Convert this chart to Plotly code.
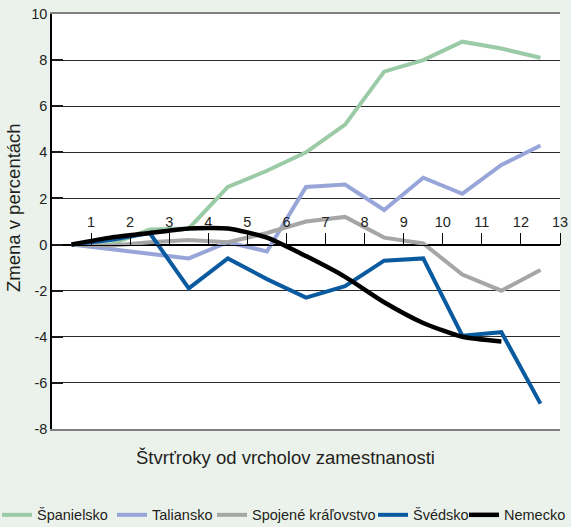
import plotly.graph_objects as go

# Positions of the observations (between the quarter tick marks)
quarters = [0.5, 1.5, 2.5, 3.5, 4.5, 5.5, 6.5, 7.5, 8.5, 9.5, 10.5, 11.5, 12.5]
x_tick_vals = list(range(1, 14))
x_tick_text = [str(v) for v in x_tick_vals]
y_tick_vals = [-8, -6, -4, -2, 0, 2, 4, 6, 8, 10]
y_tick_text = ["-8", "-6", "-4", "-2", "0", "2", "4", "6", "8", "10"]

spain = [0, 0, 0.65, 0.7, 2.5, 3.2, 4.0, 5.2, 7.5, 8.0, 8.8, 8.5, 8.1]
italy = [0, -0.2, -0.4, -0.6, 0.1, -0.3, 2.5, 2.6, 1.5, 2.9, 2.2, 3.45, 4.3]
uk = [0, -0.05, 0.1, 0.2, 0.1, 0.5, 1.0, 1.2, 0.3, 0.05, -1.3, -2.0, -1.1]
sweden = [0, 0.2, 0.5, -1.9, -0.6, -1.5, -2.3, -1.8, -0.7, -0.6, -3.95, -3.8, -6.9]
germany = [0, 0.3, 0.5, 0.7, 0.7, 0.3, -0.5, -1.4, -2.5, -3.4, -4.0, -4.2]

names = ["Španielsko", "Taliansko", "Spojené kráľovstvo", "Švédsko", "Nemecko"]
colors = ["#9BCBA6", "#97A5D8", "#A6A6A6", "#0A5AA0", "#000000"]
series = [spain, italy, uk, sweden, germany]
legend_ids = ["legend", "legend2", "legend3", "legend4", "legend5"]

L, R, T, B = 52, 11, 14, 98
W, H = 571, 527
PW, PH = W - L - R, H - T - B
legend_px = [-3, 112, 212, 373, 464]
legend_x = [(p - L) / PW for p in legend_px]

FONT = "Liberation Sans, Arial, sans-serif"
BG = "#EBF2EC"
TXT = "#231F20"

fig = go.Figure()
for name, col, vals, lid in zip(names, colors, series, legend_ids):
    fig.add_trace(go.Scatter(
        x=quarters[:len(vals)], y=vals, mode="lines", name=name,
        line=dict(color=col, width=4.5 if name == "Nemecko" else 4,
                  shape="spline" if name == "Nemecko" else "linear",
                  smoothing=0.6),
        legend=lid, hoverinfo="skip",
    ))

fig.update_layout(
    xaxis=dict(range=[0, 13], showgrid=False, zeroline=False, showticklabels=False,
               ticks="", showline=True, mirror=True, linecolor="#7F7F7F", linewidth=2),
    xaxis2=dict(range=[0, 13], overlaying="x", anchor="free", position=8 / 18,
                side="top", tickvals=x_tick_vals, ticktext=x_tick_text, ticks="outside",
                ticklen=12, tickwidth=1, tickcolor="#000", showline=True,
                linecolor="#000", linewidth=1, showgrid=False, zeroline=False,
                tickfont=dict(family=FONT, size=14.5, color=TXT)),
    yaxis=dict(range=[-8, 10], tickvals=y_tick_vals, ticktext=y_tick_text,
               showgrid=True, gridcolor="#2A2A2A",
               gridwidth=1, zeroline=True, zerolinecolor="#000", zerolinewidth=1,
               showline=True, linecolor="#000", linewidth=1.5, ticks="inside",
               ticklen=11, tickwidth=2, tickcolor="#1A1A1A",
               tickfont=dict(family=FONT, size=14.5, color=TXT)),
    plot_bgcolor="white",
    paper_bgcolor=BG,
    width=W, height=H,
    margin=dict(l=L, r=R, t=T, b=B, autoexpand=False),
    showlegend=True,
)
# helper trace to activate xaxis2
fig.add_trace(go.Scatter(x=[0], y=[None], xaxis="x2", showlegend=False, hoverinfo="skip"))

for lid, lx in zip(legend_ids, legend_x):
    fig.update_layout({lid: dict(x=lx, xanchor="left", y=-0.207, yanchor="middle",
                                 orientation="h", bgcolor="rgba(0,0,0,0)", borderwidth=0,
                                 font=dict(family=FONT, size=14.5, color=TXT),
                                 itemwidth=30)})

fig.add_annotation(text="Zmena v percentách", xref="paper", yref="paper",
                   x=(13 - L) / PW, y=(H - B - 208) / PH, xanchor="center", yanchor="middle",
                   textangle=-90, showarrow=False,
                   font=dict(family=FONT, size=18.5, color=TXT))
fig.add_annotation(text="Štvrťroky od vrcholov zamestnanosti", xref="paper", yref="paper",
                   x=(285 - L) / PW, y=(H - B - 457) / PH, xanchor="center", yanchor="middle",
                   showarrow=False, font=dict(family=FONT, size=18.5, color=TXT))

fig.write_html("out.html", config={"displayModeBar": False},
               post_script="document.body.style.margin='0px';")
